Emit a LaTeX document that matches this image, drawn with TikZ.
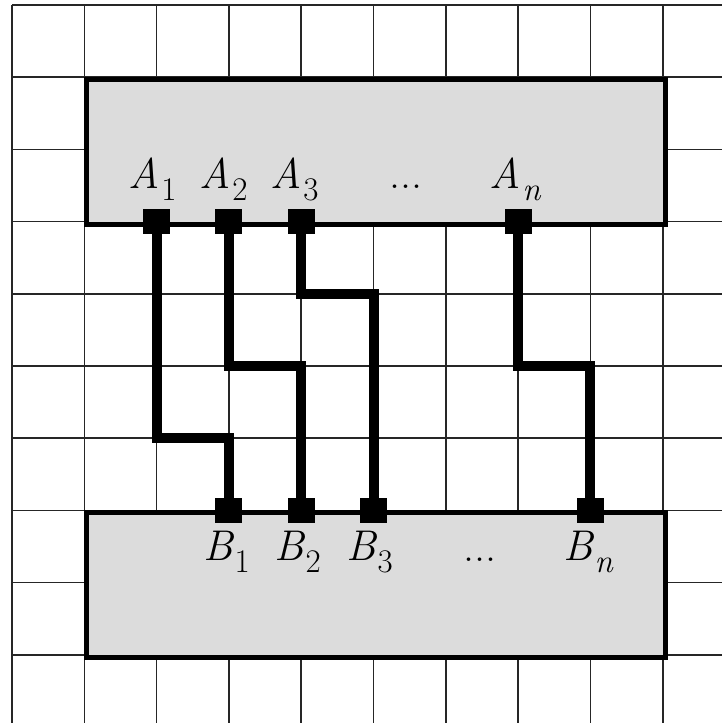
\documentclass[tikz,border=0pt]{standalone}
\definecolor{boxgray}{HTML}{DCDCDC}
\newcommand{\lbl}[2]{{\fontsize{43}{43}\selectfont\itshape #1}\hspace{2pt}\raisebox{-12pt}{\fontsize{33}{33}\selectfont #2}}
\tikzset{
  gridline/.style={line width=1.6pt, draw=black!85},
  chip/.style={fill=boxgray, draw=black, line width=5pt},
  wire/.style={line width=10pt, line join=miter, draw=black},
  pinsq/.style={fill=black, draw=none, minimum width=27pt, minimum height=25pt, inner sep=0pt},
  lab/.style={anchor=base west, inner sep=0pt, outer sep=0pt},
  dots/.style={anchor=base, inner sep=0pt, font=\fontsize{44}{44}\selectfont}
}
\begin{document}
\begin{tikzpicture}[x=1pt, y=-1pt]
\useasboundingbox (0,0) rectangle (722,723);
% grid
\foreach \k in {0,...,9} {
  \draw[gridline] ({12+72.3*\k},5) -- ({12+72.3*\k},723);
  \draw[gridline] (12,{5+72.2*\k}) -- (722,{5+72.2*\k});
}
% boxes
\node[chip, minimum width=578.4pt, minimum height=144.4pt, inner sep=0pt, anchor=north west] (top) at (84.3,77.2) {};
\node[chip, minimum width=578.4pt, minimum height=144.4pt, inner sep=0pt, anchor=north west] (bot) at (84.3,510.4) {};
% pin positions
\coordinate (a1) at (156.6,221.6);
\coordinate (a2) at (228.9,221.6);
\coordinate (a3) at (301.2,221.6);
\coordinate (an) at (518.1,221.6);
\coordinate (b1) at (228.9,510.4);
\coordinate (b2) at (301.2,510.4);
\coordinate (b3) at (373.5,510.4);
\coordinate (bn) at (590.4,510.4);
% bends
\coordinate (k1) at (156.6,438.2);
\coordinate (k2) at (228.9,366.0);
\coordinate (k3) at (301.2,293.8);
\coordinate (kn) at (518.1,366.0);
% wires
\draw[wire] (a1) -- (k1) -| (b1);
\draw[wire] (a2) -- (k2) -| (b2);
\draw[wire] (a3) -- (k3) -| (b3);
\draw[wire] (an) -- (kn) -| (bn);
% pins
\foreach \p in {a1,a2,a3,an,b1,b2,b3,bn} {
  \node[pinsq] (P\p) at (\p) {};
}
% labels
\node[lab] (LA1) at (128,188) {\lbl{A}{1}};
\node[lab] (LA2) at (199,188) {\lbl{A}{2}};
\node[lab] (LA3) at (270,188) {\lbl{A}{3}};
\node[lab] (LAn) at (489,188) {\lbl{A}{\itshape n}};
\node[dots] (DA) at (406,188) {...};
\node[lab] (LB1) at (203,560) {\lbl{B}{1}};
\node[lab] (LB2) at (274,560) {\lbl{B}{2}};
\node[lab] (LB3) at (346,560) {\lbl{B}{3}};
\node[lab] (LBn) at (563,560) {\lbl{B}{\itshape n}};
\node[dots] (DB) at (480,561) {...};
\end{tikzpicture}
\end{document}
